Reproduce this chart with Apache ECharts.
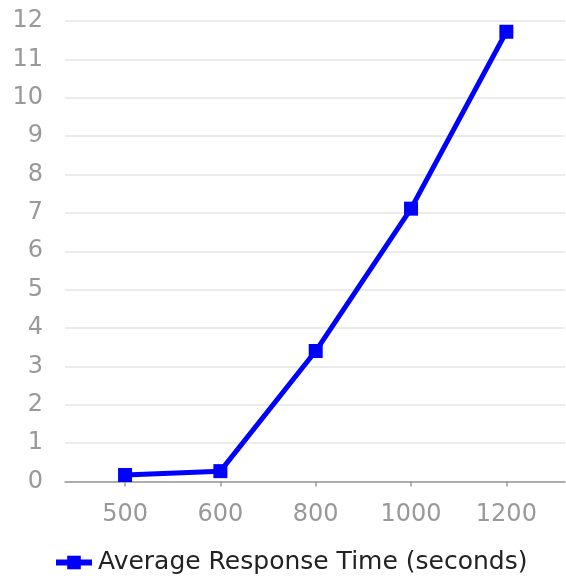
<!DOCTYPE html>
<html><head><meta charset="utf-8">
<script src="https://cdn.jsdelivr.net/npm/echarts@6/dist/echarts.min.js"></script>
<style>html,body{margin:0;padding:0;background:#fff}#c{width:566px;height:581px}</style>
</head><body><div id="c"></div>
<script>
const categories = ['500', '600', '800', '1000', '1200'];
const responseTimes = [0.17, 0.27, 3.4, 7.11, 11.72];
const seriesName = 'Average Response Time (seconds)';

const idx = categories.map((c, i) => i);
const FONT = '"DejaVu Sans", sans-serif';
const chart = echarts.init(document.getElementById('c'), null, {renderer: 'canvas'});
chart.setOption({
  animation: false,
  textStyle: {fontFamily: FONT},
  grid: {left: 65, right: 1, top: 21, bottom: 99.5, containLabel: false},
  xAxis: {
    type: 'value', min: -0.63, max: 4.615,
    offset: 9.5,
    splitLine: {show: false},
    axisLine: {show: true, lineStyle: {color: '#999', width: 1.5}},
    axisTick: {show: true, length: 5, lineStyle: {color: '#999', width: 1.5}, customValues: idx},
    axisLabel: {customValues: idx, formatter: v => categories[Math.round(v)], color: '#999', fontSize: 24, margin: 12, fontFamily: FONT}
  },
  yAxis: {
    type: 'value', min: 0, max: 12, interval: 1,
    axisLine: {show: false}, axisTick: {show: false},
    splitLine: {lineStyle: {color: '#e5e5e5', width: 1.5}},
    axisLabel: {color: '#999', fontSize: 24, margin: 22, fontFamily: FONT}
  },
  legend: {
    top: 550, left: 53,
    padding: 0,
    itemWidth: 36, itemHeight: 17, itemGap: 10,
    lineStyle: {width: 6},
    textStyle: {color: '#222', fontSize: 25, fontFamily: FONT, padding: [0,0,0,1]},
    data: [seriesName]
  },
  series: [{
    name: seriesName, type: 'line',
    data: idx.map(i => [i, responseTimes[i]]),
    symbol: 'rect', symbolSize: 14,
    lineStyle: {color: '#0000ff', width: 5},
    itemStyle: {color: '#0000ff'}
  }]
});
</script></body></html>
